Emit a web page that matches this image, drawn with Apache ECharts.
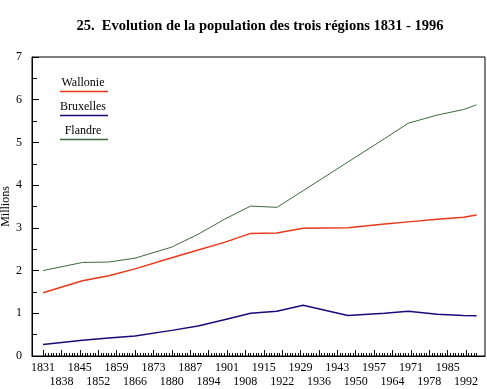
<!DOCTYPE html>
<html>
<head>
<meta charset="utf-8">
<script src="https://cdn.jsdelivr.net/npm/echarts@6/dist/echarts.min.js"></script>
<style>html,body{margin:0;padding:0;background:#fff}#c{width:487px;height:389px}</style>
</head>
<body>
<div id="c"></div>
<script>
const years = [1831, 1846, 1856, 1866, 1880, 1890, 1900, 1910, 1920, 1930, 1947, 1961, 1970, 1981, 1991, 1996];
const wallonie = [1.48, 1.76, 1.88, 2.04, 2.30, 2.48, 2.66, 2.87, 2.88, 2.99, 3.00, 3.09, 3.14, 3.20, 3.25, 3.30];
const bruxelles = [0.27, 0.37, 0.42, 0.47, 0.60, 0.70, 0.85, 1.00, 1.05, 1.19, 0.95, 1.00, 1.05, 0.98, 0.95, 0.94];
const flandre = [2.00, 2.19, 2.20, 2.29, 2.55, 2.85, 3.20, 3.51, 3.48, 3.87, 4.54, 5.09, 5.45, 5.64, 5.77, 5.88];
const seriesNames = ['Wallonie', 'Bruxelles', 'Flandre'];
const labelRow1 = [1831, 1845, 1859, 1873, 1887, 1901, 1915, 1929, 1943, 1957, 1971, 1985];
const labelRow2 = [1838, 1852, 1866, 1880, 1894, 1908, 1922, 1936, 1950, 1964, 1978, 1992];
const majorYears = labelRow1.concat(labelRow2).sort((a, b) => a - b);
const minorYears = [];
for (let y = 1831; y <= 1996; y++) minorYears.push(y);
const titleText = '25.  Evolution de la population des trois régions 1831 - 1996';
const yName = 'Millions';

const colors = ['#e8381a', '#1a0a78', '#3d6a3d'];
const serif = '"Liberation Serif", "DejaVu Serif", serif';
const chart = echarts.init(document.getElementById('c'), null, {renderer: 'canvas'});
const pairs = arr => years.map((y, i) => [y, arr[i]]);
const xMin = 1826.8, xMax = 1999.2;

const legendGraphics = [];
const legendY = [82.5, 106.5, 130.5];
const lineY = [90.75, 114.75, 138.75];
seriesNames.forEach((n, i) => {
  legendGraphics.push({type: 'text', x: 83, y: legendY[i], z: 10, style: {text: n, font: '12px ' + serif, fill: '#000', textAlign: 'center', textVerticalAlign: 'middle'}});
  legendGraphics.push({type: 'rect', z: 10, shape: {x: 60, y: lineY[i], width: 48, height: 1.5}, style: {fill: colors[i], stroke: null}});
});

const labelBase = {color: '#000', fontFamily: serif, fontSize: 12, hideOverlap: false, showMinLabel: true, showMaxLabel: true, formatter: v => String(v)};

chart.setOption({
  animation: false,
  backgroundColor: '#fff',
  grid: {left: 32, top: 57, right: 2, bottom: 33, containLabel: false, outerBoundsMode: 'none', show: true, borderColor: '#000', borderWidth: 1, backgroundColor: 'transparent'},
  graphic: [
    {type: 'text', x: 260, y: 26, style: {text: titleText, font: 'bold 14.5px ' + serif, fill: '#000', textAlign: 'center', textVerticalAlign: 'middle'}}
  ].concat(legendGraphics),
  xAxis: [
    {
      type: 'value', min: xMin, max: xMax, position: 'bottom',
      splitLine: {show: false},
      axisLine: {lineStyle: {color: '#000', width: 1}},
      axisTick: {inside: true, length: 6, customValues: majorYears, lineStyle: {color: '#000'}},
      axisLabel: Object.assign({customValues: labelRow1, margin: 6}, labelBase)
    },
    {
      type: 'value', min: xMin, max: xMax, position: 'bottom',
      splitLine: {show: false},
      axisLine: {show: false},
      axisTick: {inside: true, length: 3, customValues: minorYears, lineStyle: {color: '#000'}},
      axisLabel: Object.assign({customValues: labelRow2, margin: 20}, labelBase)
    }
  ],
  yAxis: {
    type: 'value', min: 0, max: 7, interval: 1,
    name: yName, nameLocation: 'middle', nameGap: 20, nameRotate: 90, nameMoveOverlap: false,
    nameTextStyle: {color: '#000', fontFamily: serif, fontSize: 12},
    splitLine: {show: false},
    axisLine: {show: true, lineStyle: {color: '#000', width: 1}},
    axisTick: {inside: true, length: 7, lineStyle: {color: '#000'}},
    minorTick: {show: true, splitNumber: 2, length: 5, lineStyle: {color: '#000'}},
    minorSplitLine: {show: false},
    axisLabel: {color: '#000', fontFamily: serif, fontSize: 12, margin: 10}
  },
  series: [
    {name: seriesNames[0], type: 'line', data: pairs(wallonie), symbol: 'none', lineStyle: {color: colors[0], width: 1.5}},
    {name: seriesNames[1], type: 'line', data: pairs(bruxelles), symbol: 'none', lineStyle: {color: colors[1], width: 1.5}},
    {name: seriesNames[2], type: 'line', data: pairs(flandre), symbol: 'none', lineStyle: {color: colors[2], width: 1}}
  ]
});
</script>
</body>
</html>
